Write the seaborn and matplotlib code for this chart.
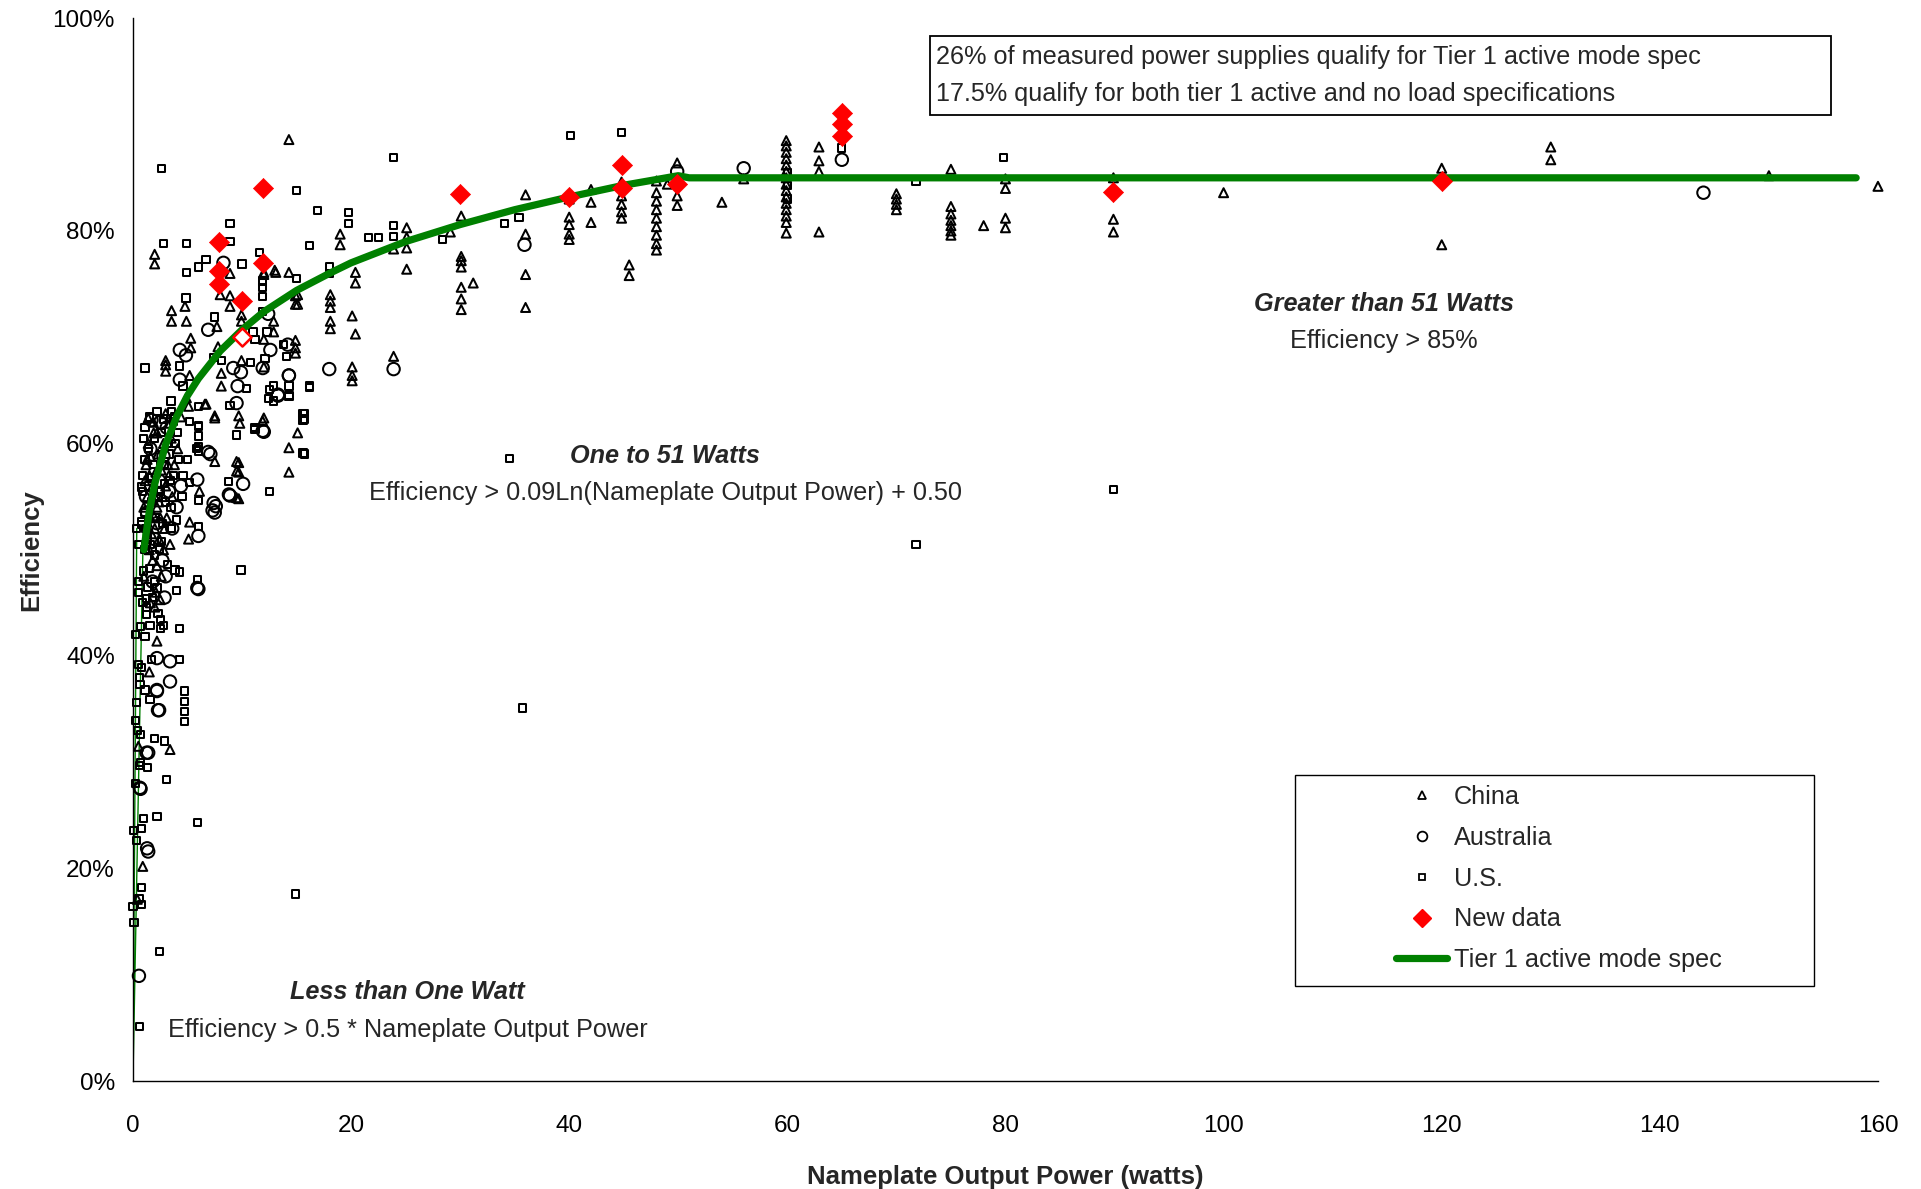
import matplotlib
matplotlib.use("Agg")
import matplotlib.pyplot as plt
import seaborn as sns
from matplotlib.lines import Line2D
from matplotlib.patches import Rectangle
from matplotlib.ticker import FuncFormatter

# data: output power (W) and efficiency (%)
china_x = [54.0, 56.0,
           59.9, 59.9, 59.9, 59.9, 59.9, 59.9, 59.9, 59.9, 59.9, 59.9, 59.9, 59.9, 59.9, 59.9, 59.9,
           62.9, 62.9, 62.9, 62.9, 70, 70, 70, 70, 75, 75, 75, 75, 75, 75, 75,
           78, 80, 80, 80, 80, 89.9, 89.9, 89.9, 100, 120, 120, 130, 130, 150, 160,
           40, 40, 40, 40, 40, 42, 42, 42, 44.8, 44.8, 44.8, 44.8, 44.8, 45.5, 45.5,
           48, 48, 48, 48, 48, 48, 48, 48, 48, 49.9, 49.9, 49.9, 49,
           30.1, 30.1, 30.1, 30.1, 30.1, 30.1, 30.1, 31.2, 29.1, 36.0, 36.0, 36.0, 36.0,
           25.1, 25.1, 25.1, 25.1, 23.9, 23.9, 19.0, 19.0, 20.4, 20.4, 20.1, 20.4, 20.1, 20.1, 20.1,
           14.3, 15.1, 15.1, 18.1, 18.1, 18.1, 18.1, 18.1, 12.0, 13.1, 14.3, 15.1, 14.3, 14.3,
           14.9, 14.9, 14.9, 14.9, 14.9, 12.9, 12.9, 12.0, 12.0, 12.0, 12.0, 13.0,
           1.99, 1.99, 3.54, 3.54, 4.77, 4.9, 5.3, 5.3, 7.7, 7.8, 3.0, 3.0, 3.0, 5.2, 4.9, 5.1,
           3.4, 1.4, 1.86, 6.6, 7.5, 8.1, 8.1, 9.95, 9.7, 9.8, 7.5, 9.5, 9.5, 9.5, 6.1, 5.2, 5.1,
           8.9, 8.9, 8.9, 8.0, 9.95, 9.95, 9.7, 9.7, 9.7, 7.5, 11.9, 6.7,
           1.2, 1.5, 1.8, 2.0, 2.2, 2.5, 1.3, 1.6, 2.0, 2.4, 2.8, 1.5, 1.8, 2.2, 3.0, 3.2, 2.8,
           3.5, 1.4, 2.6, 1.7, 3.1, 2.3, 1.9, 3.6, 2.1, 2.6,
           2.5, 2.2, 1.5, 3.4, 0.5, 0.9, 0.4,
           1.0, 1.1, 1.3, 1.6, 2.1, 2.7, 3.3, 3.8, 4.1, 1.2, 1.9, 2.4, 2.9, 3.4, 1.6, 2.0, 1.0,
           4.4, 2.2, 3.0]
china_y = [82.7, 84.9,
           88.5, 88.0, 87.4, 86.8, 86.2, 85.6, 85.0, 84.4, 83.8, 83.2, 82.6, 82.0, 81.4, 80.8, 79.8,
           87.9, 86.6, 85.6, 79.9, 83.5, 83.0, 82.5, 82.0, 85.8, 82.3, 81.6, 81.0, 80.5, 80.0, 79.6,
           80.5, 84.9, 84.0, 81.2, 80.3, 85.0, 81.1, 79.9, 83.6, 85.9, 78.7, 87.9, 86.7, 85.2, 84.2,
           83.0, 81.3, 80.6, 79.7, 79.2, 83.9, 82.7, 80.8, 84.6, 83.3, 82.5, 81.8, 81.2, 76.8, 75.8,
           84.7, 83.6, 82.8, 82.0, 81.2, 80.4, 79.6, 78.8, 78.2, 86.4, 83.3, 82.4, 84.4,
           81.4, 77.6, 77.2, 76.6, 74.7, 73.6, 72.6, 75.1, 79.9, 83.4, 79.7, 75.9, 72.8,
           80.3, 79.4, 78.4, 76.4, 78.3, 68.2, 79.7, 78.7, 76.1, 75.1, 72.0, 70.3, 67.2, 66.4, 65.9,
           88.6, 74.0, 73.1, 74.0, 73.4, 72.8, 71.5, 70.8, 76.1, 76.1, 76.1, 61.0, 59.6, 57.3,
           73.9, 73.1, 69.7, 69.0, 68.5, 70.5, 71.5, 69.8, 67.2, 62.4, 75.9, 76.3,
           77.8, 76.9, 72.5, 71.5, 72.9, 71.5, 69.9, 69.0, 71.0, 69.1, 67.8, 67.4, 66.8, 66.4, 64.3, 63.5,
           61.9, 62.4, 62.0, 63.7, 62.6, 66.6, 65.4, 67.8, 62.6, 61.9, 58.3, 58.3, 57.4, 54.9, 55.5, 52.6, 51.0,
           76.0, 73.9, 72.9, 74.0, 72.1, 71.5, 58.2, 57.3, 54.8, 62.4, 62.1, 63.7,
           58, 57, 56, 55, 54, 53, 55, 53, 52, 51, 50, 50, 49, 48.5, 56, 58, 60,
           60.5, 60, 57.5, 51.5, 53, 59, 61, 55, 46, 47.5,
           45.3, 41.4, 38.5, 31.2, 31.5, 20.2, 17.1,
           54, 56.5, 58.5, 58.8, 57.3, 55, 57, 58, 59.5, 50.8, 53.2, 54.5, 52, 50.5, 45, 44.6, 47.5,
           62.5, 61, 62.8]

aus_x = [56, 65, 49.9, 35.9, 144, 23.9, 18.0, 14.3, 13.3, 11.9, 10.1, 8.9, 7.6, 7.5, 7.1,
         6.9, 4.3, 4.86, 4.3, 9.2, 9.9, 9.6, 9.5, 6.9, 8.8, 7.4, 7.3, 5.9, 6.0, 12.4, 11.9,
         12.6, 14.2, 14.3, 13.3, 12.0, 8.3,
         5.9, 2.2, 3.4, 3.4, 2.2, 2.3, 1.25, 0.64, 1.3, 6.0, 2.2, 2.4, 1.4, 0.7, 1.4, 0.55,
         1.6, 2.4, 3.1, 2.0, 2.7, 1.3, 3.6, 2.9, 4.0, 4.4, 2.5, 1.8,
         1.2, 2.8, 3.3, 1.7, 2.2, 3.0]
aus_y = [85.9, 86.7, 85.6, 78.7, 83.6, 67.0, 67.0, 66.4, 64.5, 61.2, 56.2, 55.1, 54.1, 53.5, 59.0,
         70.7, 68.8, 68.3, 66.0, 67.1, 66.7, 65.4, 63.8, 59.2, 55.2, 54.4, 53.7, 56.6, 51.3, 72.2, 67.1,
         68.8, 69.3, 66.4, 64.6, 61.1, 77.0,
         46.4, 39.8, 39.5, 37.6, 36.8, 34.9, 30.9, 27.6, 21.9, 46.3, 36.7, 34.9, 30.9, 27.5, 21.6, 9.9,
         59.5, 56.5, 61.5, 51, 49, 53.5, 52, 45.5, 54, 56, 62, 47,
         55, 58.8, 55.5, 62.2, 52.5, 47.5]

us_x = [60, 60, 60, 65, 71.8, 71.8, 79.8, 89.9, 40.1, 44.8,
        23.9, 2.6, 15.0, 16.9, 19.8, 19.8, 8.9, 8.9, 2.8, 4.9, 4.9, 6.0, 6.7, 10.0, 11.6, 15.0,
        16.2, 21.6, 22.5, 23.9, 23.9, 18.0, 18.0, 28.4, 34.1, 35.4, 34.5, 35.7, 16.2, 15.7,
        15.7, 15.7, 12.5, 9.9, 6.0, 6.0, 11.2, 14.3, 12.5, 12.9, 6.0, 14.9,
        4.86, 7.5, 7.4, 1.1, 4.3, 4.6, 3.54, 1.1, 3.7, 5.2, 6.0, 6.0, 6.0, 8.1, 10.4, 10.8,
        8.9, 9.5, 5.8, 8.75, 6.0, 5.2, 6.0, 3.54, 0.8, 0.8, 11.0, 11.2, 12.3, 11.9, 12.1,
        13.8, 14.1, 12.9, 14.3, 14.3, 12.4, 11.2, 15.6, 15.6, 15.6, 16.2, 11.9, 11.9, 11.9,
        0.8, 1.1, 0.48, 3.85, 4.3, 4.0, 5.9, 2.2, 1.25, 1.25, 1.25, 2.5, 2.5, 2.8, 4.3,
        0.7, 1.56, 1.1, 1.7, 4.3, 0.5, 0.8, 0.64, 1.1, 1.56, 4.7, 4.7, 4.7, 4.7, 0.33, 0.27,
        0.7, 2.0, 2.9, 0.6, 1.3, 3.1, 2.2, 5.9, 1.0, 0.03, 0.8, 0.33,
        2.4, 0.6, 0.8, 0.55, 0.0, 0.76, 0.1,
        1.1, 1.4, 1.7, 2.1, 2.5, 2.9, 3.3, 3.7, 1.2, 1.6, 2.0, 2.4, 2.7, 3.0, 3.4, 1.0, 1.3,
        1.8, 2.3, 3.9, 4.2, 4.6, 4.1, 0.9, 1.5, 2.2, 2.8, 3.5, 1.9,
        0.3, 0.5, 0.2, 0.6, 0.4, 0.7, 0.2, 0.5, 0.9,
        1.4, 2.0, 2.6, 3.2, 3.8, 1.0, 1.7, 2.3, 2.9, 3.5, 4.0, 1.3, 2.6, 3.2, 1.5, 2.0, 0.9,
        1.1, 4.5, 5.0]
us_y = [85.5, 84.3, 83.0, 87.8, 84.7, 50.5, 86.9, 55.7, 89.0, 89.3,
        86.9, 85.9, 83.8, 81.9, 81.7, 80.7, 80.7, 79.0, 78.8, 78.8, 76.1, 76.6, 77.3, 76.9, 78.0, 75.5,
        78.6, 79.4, 79.4, 80.5, 79.5, 76.6, 76.0, 79.2, 80.7, 81.3, 58.6, 35.1, 65.3, 62.8,
        62.3, 59.0, 55.5, 48.1, 61.7, 59.3, 61.3, 64.5, 65.1, 64.0, 63.5, 17.6,
        73.7, 71.9, 68.1, 67.1, 67.3, 65.4, 63.0, 61.5, 62.1, 62.1, 61.6, 60.7, 59.7, 67.8, 65.2, 67.6,
        63.6, 60.8, 59.5, 56.4, 54.6, 56.3, 52.2, 52.0, 55.9, 52.6, 70.5, 69.8, 70.5, 72.4, 68.0,
        69.3, 68.2, 65.4, 65.4, 64.4, 64.2, 61.5, 62.8, 62.2, 59.1, 65.4, 75.3, 74.7, 73.8,
        52.4, 50.0, 47.0, 48.1, 47.9, 46.2, 47.2, 46.4, 45.4, 44.6, 43.9, 43.4, 42.6, 42.9, 42.6,
        42.8, 42.9, 41.8, 39.7, 39.7, 39.2, 38.9, 37.3, 36.8, 35.9, 36.7, 35.7, 34.8, 33.8, 35.6, 33.9,
        32.6, 32.2, 32.0, 29.7, 29.5, 28.4, 24.9, 24.3, 24.7, 23.6, 23.8, 22.6,
        12.2, 5.1, 18.2, 17.2, 16.4, 16.6, 14.9,
        58.5, 56, 54.5, 53, 55.5, 58, 59, 57, 52, 50.5, 49.5, 50, 52.5, 54.5, 56.5, 48, 46.5,
        45.5, 44, 60, 58.5, 57, 61, 57, 62.5, 63, 62.3, 64, 58,
        52, 46, 42, 38, 33, 30, 28, 50.5, 55.5,
        59.5, 60.5, 61, 60, 62.5, 60.5, 56.8, 55, 56.2, 54, 52.8, 51, 50.8, 48.6, 48.2, 47, 45,
        53.5, 55, 58.5]

new_x = [7.9, 7.9, 7.9, 11.9, 11.9, 10.0, 30.0, 40.0, 44.8, 44.8, 49.9, 65, 65, 65, 89.9, 120]
new_y = [79.0, 76.2, 75.0, 84.0, 77.0, 73.4, 83.5, 83.2, 86.2, 84.0, 84.4, 91.1, 90.1, 88.9, 83.7, 84.7]
new_open_x = [10.0]
new_open_y = [70.0]

# Tier 1 active mode spec as drawn
tier_x = [1, 1.5, 2, 3, 4, 5, 6, 8, 10, 12, 15, 18, 20, 25, 30, 35, 40, 45, 50, 51, 158]
tier_y = [50, 53.6, 56.2, 59.9, 62.5, 64.5, 66.1, 68.7, 70.7, 72.4, 74.4, 76.0, 77.0, 79.0,
          80.6, 82.0, 83.2, 84.3, 85.2, 85.0, 85.0]
low_x = [0.35, 0.0, 0.95]
low_y = [52, 0, 52]

sns.set_theme(style="white")
plt.rcParams["font.family"] = ["Liberation Sans", "DejaVu Sans"]

fig = plt.figure(figsize=(19.21, 11.89), dpi=100)
ax = fig.add_axes([0.0692, 0.0908, 0.9084, 0.8937])

green = "#008000"
sns.lineplot(x=low_x, y=low_y, sort=False, color=green, linewidth=1.0, ax=ax, zorder=2)
sns.lineplot(x=tier_x, y=tier_y, sort=False, color=green, linewidth=5.2, ax=ax, zorder=4,
             solid_capstyle="round")

sns.scatterplot(x=china_x, y=china_y, marker="^", s=42, facecolor="none", edgecolor="black",
                linewidth=1.45, ax=ax, zorder=3, clip_on=False)
sns.scatterplot(x=aus_x, y=aus_y, marker="o", s=80, facecolor="none", edgecolor="black",
                linewidth=1.45, ax=ax, zorder=3, clip_on=False)
sns.scatterplot(x=us_x, y=us_y, marker="s", s=27, facecolor="none", edgecolor="black",
                linewidth=1.45, ax=ax, zorder=3, clip_on=False)
sns.scatterplot(x=new_x, y=new_y, marker="D", s=105, color="#ff0000", edgecolor="#ff0000",
                linewidth=0.5, ax=ax, zorder=5)
sns.scatterplot(x=new_open_x, y=new_open_y, marker="D", s=85, facecolor="white",
                edgecolor="#ff0000", linewidth=1.8, ax=ax, zorder=5)

ax.set_xlim(0, 160)
ax.set_ylim(0, 100)
ax.set_xticks(range(0, 161, 20))
ax.set_yticks(range(0, 101, 20))
ax.yaxis.set_major_formatter(FuncFormatter(lambda v, p: f"{v:.0f}%"))
for side in ["top", "right"]:
    ax.spines[side].set_visible(False)
for side in ["left", "bottom"]:
    ax.spines[side].set_color("black")
    ax.spines[side].set_linewidth(1.0)
ax.tick_params(axis="both", direction="out", length=7, width=1, color="black",
               labelsize=17.5, labelcolor="black")
ax.tick_params(axis="x", pad=17.5)
ax.tick_params(axis="y", pad=6)

ax.set_xlabel("Nameplate Output Power (watts)", fontsize=18.5, fontweight="bold")
ax.set_ylabel("Efficiency", fontsize=18.5, fontweight="bold")
ax.xaxis.set_label_coords(0.5, -0.079)
ax.yaxis.set_label_coords(-0.0515, 0.5)

# region annotations
ax.text(114.7, 73.1, "Greater than 51 Watts", fontsize=18.2, fontweight="bold", style="italic",
        ha="center", va="center")
ax.text(114.7, 69.6, "Efficiency > 85%", fontsize=18.2, ha="center", va="center")
ax.text(48.8, 58.8, "One to 51 Watts", fontsize=18.2, fontweight="bold", style="italic",
        ha="center", va="center")
ax.text(48.8, 55.3, "Efficiency > 0.09Ln(Nameplate Output Power) + 0.50", fontsize=18.2,
        ha="center", va="center")
ax.text(25.2, 8.4, "Less than One Watt", fontsize=18.2, fontweight="bold", style="italic",
        ha="center", va="center")
ax.text(25.2, 4.8, "Efficiency > 0.5 * Nameplate Output Power", fontsize=18.2,
        ha="center", va="center")

# note box at the top
fig.patches.append(Rectangle((0.4841, 0.9033), 0.4690, 0.0664, transform=fig.transFigure,
                             facecolor="white", edgecolor="black", linewidth=1.3, zorder=5))
fig.text(0.4874, 0.9517, "26% of measured power supplies qualify for Tier 1 active mode spec",
         fontsize=18.2, ha="left", va="center", zorder=6)
fig.text(0.4874, 0.9206, "17.5% qualify for both tier 1 active and no load specifications",
         fontsize=18.2, ha="left", va="center", zorder=6)

# legend box
fig.patches.append(Rectangle((0.6741, 0.1707), 0.2702, 0.1775, transform=fig.transFigure,
                             facecolor="white", edgecolor="black", linewidth=1.0, zorder=5))
handles = [
    Line2D([], [], marker="^", ls="none", mfc="none", mec="black", ms=5.5, mew=1.3),
    Line2D([], [], marker="o", ls="none", mfc="none", mec="black", ms=7, mew=1.3),
    Line2D([], [], marker="s", ls="none", mfc="none", mec="black", ms=5, mew=1.3),
    Line2D([], [], marker="D", ls="none", mfc="#ff0000", mec="#ff0000", ms=9.5),
    Line2D([], [], color=green, lw=5.2, solid_capstyle="round"),
]
labels = ["China", "Australia", "U.S.", "New data", "Tier 1 active mode spec"]
leg = fig.legend(handles, labels, loc="upper left", bbox_to_anchor=(0.7265, 0.3395),
                 bbox_transform=fig.transFigure, frameon=False, fontsize=18.2,
                 handlelength=2.05, handletextpad=0.25, labelspacing=0.66, borderpad=0,
                 borderaxespad=0)
leg.set_zorder(7)

fig.savefig("out.png", dpi=100)
